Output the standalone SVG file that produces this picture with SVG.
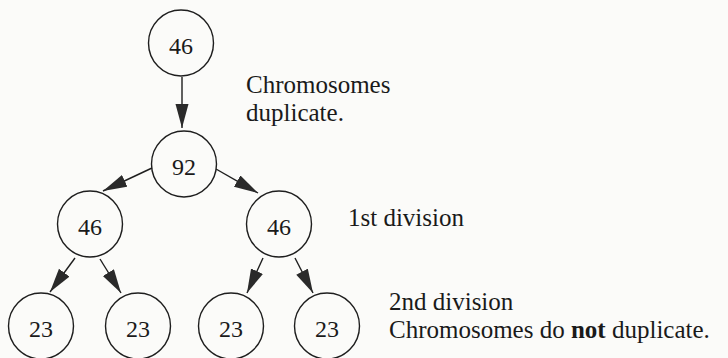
<svg xmlns="http://www.w3.org/2000/svg" width="728" height="358" viewBox="0 0 728 358">
<style>
.node ellipse{fill:none;stroke:#1e1e1e;stroke-width:1.4}
.num{font-family:"Liberation Serif","Times New Roman",serif;font-size:24px;fill:#1a1a1a;text-anchor:middle}
.lbl{font-family:"Liberation Serif","Times New Roman",serif;font-size:25px;fill:#1a1a1a}
.edge{stroke:#1e1e1e;stroke-width:1.4;fill:none;marker-end:url(#ah)}
</style>
<defs>
<marker id="ah" markerUnits="userSpaceOnUse" markerWidth="26" markerHeight="14" refX="24" refY="6.5" orient="auto">
<path d="M0,0 L24,6.5 L0,13 Z" fill="#2a2a2a"/>
</marker>
</defs>
<rect width="728" height="358" fill="#fbfbf9"/>
<g id="connectors">
<line class="edge" x1="182" y1="77" x2="182" y2="128"/>
<line class="edge" x1="152" y1="168" x2="103" y2="191"/>
<line class="edge" x1="216" y1="169" x2="258" y2="193"/>
<line class="edge" x1="75" y1="258" x2="50" y2="292"/>
<line class="edge" x1="100" y1="259" x2="121" y2="293"/>
<line class="edge" x1="263" y1="258" x2="247" y2="293"/>
<line class="edge" x1="295" y1="258" x2="313" y2="293"/>
</g>
<g id="n46top" class="node"><ellipse cx="181" cy="43" rx="32.5" ry="33"/><text class="num" x="181" y="54">46</text></g>
<g id="n92" class="node"><ellipse cx="184" cy="164" rx="32.5" ry="33"/><text class="num" x="184" y="175">92</text></g>
<g id="n46left" class="node"><ellipse cx="90" cy="224" rx="32.5" ry="33"/><text class="num" x="90" y="235">46</text></g>
<g id="n46right" class="node"><ellipse cx="279" cy="224" rx="32.5" ry="33"/><text class="num" x="279" y="235">46</text></g>
<g id="n23a" class="node"><ellipse cx="41" cy="326" rx="32.5" ry="33"/><text class="num" x="41" y="337">23</text></g>
<g id="n23b" class="node"><ellipse cx="138" cy="326" rx="32.5" ry="33"/><text class="num" x="138" y="337">23</text></g>
<g id="n23c" class="node"><ellipse cx="231" cy="326" rx="32.5" ry="33"/><text class="num" x="231" y="337">23</text></g>
<g id="n23d" class="node"><ellipse cx="327" cy="326" rx="32.5" ry="33"/><text class="num" x="327" y="337">23</text></g>
<g id="labels">
<text class="lbl" x="246" y="93">Chromosomes</text>
<text class="lbl" x="246" y="121">duplicate.</text>
<text class="lbl" x="348" y="226">1st division</text>
<text class="lbl" x="389" y="310">2nd division</text>
<text class="lbl" x="389" y="338">Chromosomes do <tspan font-weight="bold">not</tspan> duplicate.</text>
</g>
</svg>
